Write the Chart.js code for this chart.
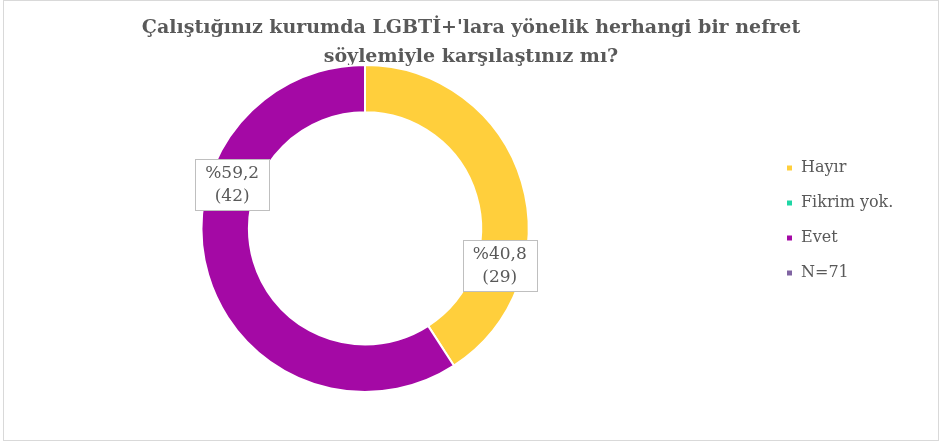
<!DOCTYPE html>
<html>
<head>
<meta charset="utf-8">
<script src="https://cdn.jsdelivr.net/npm/chart.js@4/dist/chart.umd.min.js"></script>
<style>
  body { margin: 0; background: #fff; }
  #wrap { position: relative; width: 942px; height: 443px; }
  #frame { position: absolute; left: 3px; top: 0; width: 934px; height: 439px; border: 1px solid #d9d9d9; pointer-events: none; }
</style>
</head>
<body>
<div id="wrap">
  <canvas id="donut" width="942" height="443"></canvas>
  <div id="frame"></div>
</div>
<script>
const titleLines = ["Çalıştığınız kurumda LGBTİ+'lara yönelik herhangi bir nefret", "söylemiyle karşılaştınız mı?"];
const categories = ['Hayır', 'Fikrim yok.', 'Evet', 'N=71'];
const counts = [29, 0, 42, 0];
const sliceColors = ['#FFCF3C', '#1FD6A5', '#A409A5', '#8064A2'];

const FONT = "'DejaVu Serif', serif";
const PLOT_RIGHT = 730;       // right edge of the area the ring is centred in
const LEGEND_LEFT = 767;      // legend box sits at LEGEND_LEFT + padding
const LEGEND_DROP = 24;       // legend sits a little below the middle
const LABEL_FRACTION = [0.717, 0.5, 0.663, 0.5];  // where along each arc the value box goes

const total = counts.reduce((a, b) => a + b, 0);

// keep the ring left of the legend and move the legend like the original
const layoutTweak = {
    id: 'layoutTweak',
    afterLayout(chart) {
        const area = chart.chartArea;
        area.right = PLOT_RIGHT;
        area.width = area.right - area.left;
        const lg = chart.legend;
        const w = lg.width;
        lg.left = LEGEND_LEFT;
        lg.right = LEGEND_LEFT + w;
        lg.top += LEGEND_DROP;
        lg.bottom += LEGEND_DROP;
    }
};

// boxed "%xx,x (n)" labels on the ring
const boxLabels = {
    id: 'boxLabels',
    afterDatasetsDraw(chart) {
        const ctx = chart.ctx;
        const meta = chart.getDatasetMeta(0);
        ctx.save();
        ctx.font = '17px ' + FONT;
        ctx.textAlign = 'center';
        ctx.textBaseline = 'middle';
        meta.data.forEach((arc, i) => {
            const v = counts[i];
            if (!v) return;
            const p = arc.getProps(['x', 'y', 'startAngle', 'endAngle', 'innerRadius', 'outerRadius'], true);
            const a = p.startAngle + (p.endAngle - p.startAngle) * LABEL_FRACTION[i];
            const r = (p.innerRadius + p.outerRadius) / 2;
            const cx = p.x + Math.cos(a) * r;
            const cy = p.y + Math.sin(a) * r;
            const lines = ['%' + (v / total * 100).toFixed(1).replace('.', ','), '(' + v + ')'];
            const lh = 23;
            const tw = Math.max(...lines.map(t => ctx.measureText(t).width));
            const bw = tw + 20, bh = lines.length * lh + 5;
            ctx.fillStyle = '#ffffff';
            ctx.fillRect(cx - bw / 2, cy - bh / 2, bw, bh);
            ctx.strokeStyle = '#bfbfbf';
            ctx.lineWidth = 1;
            ctx.strokeRect(Math.round(cx - bw / 2) + 0.5, Math.round(cy - bh / 2) + 0.5, Math.round(bw), Math.round(bh));
            ctx.fillStyle = '#595959';
            lines.forEach((t, k) => {
                ctx.fillText(t, cx, cy + (k - (lines.length - 1) / 2) * lh);
            });
        });
        ctx.restore();
    }
};

new Chart(document.getElementById('donut'), {
    type: 'doughnut',
    data: {
        labels: categories,
        datasets: [{
            data: counts,
            backgroundColor: sliceColors,
            borderColor: '#ffffff',
            borderWidth: 2,
            hoverOffset: 0
        }]
    },
    options: {
        responsive: false,
        animation: false,
        cutout: '71%',
        layout: {
            padding: { left: 0, right: 0, top: 0, bottom: 50 }
        },
        plugins: {
            title: {
                display: true,
                text: titleLines,
                color: '#595959',
                font: { family: FONT, size: 19, weight: 'bold', lineHeight: 1.55 },
                padding: { top: 13, bottom: -8 }
            },
            legend: {
                position: 'right',
                labels: {
                    color: '#595959',
                    font: { family: FONT, size: 16 },
                    boxWidth: 7,
                    boxHeight: 7,
                    padding: 19
                }
            },
            tooltip: { enabled: false }
        }
    },
    plugins: [layoutTweak, boxLabels]
});
</script>
</body>
</html>
